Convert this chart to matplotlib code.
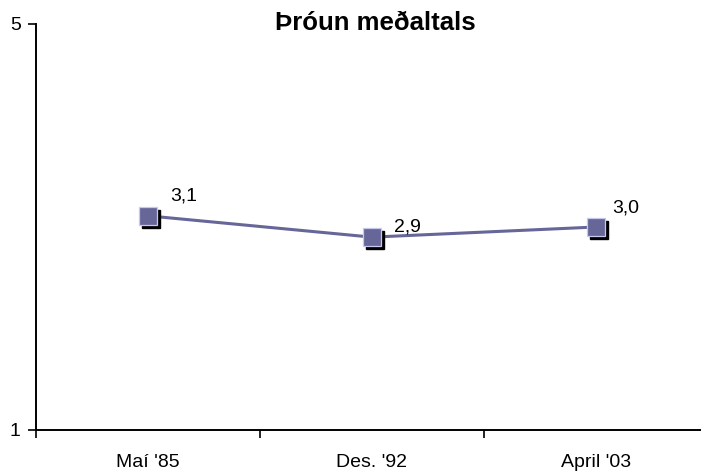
import matplotlib
matplotlib.use("Agg")
import matplotlib.pyplot as plt
import matplotlib.transforms as mtransforms

categories = ["Maí '85", "Des. '92", "April '03"]
values = [3.11, 2.90, 3.00]
value_labels = ["3,1", "2,9", "3,0"]
y_ticks = [1, 5]

plt.rcParams['font.family'] = ['Liberation Sans', 'DejaVu Sans']

fig = plt.figure(figsize=(7.01, 4.76), dpi=100)
ax = fig.add_axes([36/701, 46/476, 1 - 36/701, (430-24)/476])

x = list(range(len(categories)))
line_color = '#666699'

ax.plot(x, values, color=line_color, lw=2.2, zorder=2)
shadow = mtransforms.offset_copy(ax.transData, fig=fig, x=3, y=-3, units='dots')
ax.plot(x, values, ls='none', marker='s', ms=12.5, mfc='black', mec='black',
        transform=shadow, zorder=3, clip_on=False)
ax.plot(x, values, ls='none', marker='s', ms=12.5, mfc=line_color, mec='#c8c8ee',
        mew=0.9, zorder=4, clip_on=False)

label_offsets = [(16, 14), (16, 7), (12, 14)]
for xi, v, lab, off in zip(x, values, value_labels, label_offsets):
    ax.annotate(lab, (xi, v), xytext=off, textcoords='offset points',
                ha='left', va='center', fontsize=14, zorder=5)

ax.set_xlim(-0.5, -0.5 + (701 - 36) / 224)
ax.set_ylim(1, 5)
ax.set_yticks(y_ticks)
ax.set_yticklabels([str(t) for t in y_ticks], fontsize=14)
ax.set_xticks([i + 0.5 for i in range(-1, len(categories) - 1)])
ax.set_xticklabels([])
ax.set_xticks(x, minor=True)
ax.set_xticklabels(categories, minor=True, fontsize=14)
ax.tick_params(axis='x', which='minor', length=0, pad=17)
ax.tick_params(axis='x', which='major', length=6, width=1.2, direction='out')
ax.tick_params(axis='y', length=6, width=1.2, direction='out', pad=5)

for s in ['top', 'right']:
    ax.spines[s].set_visible(False)
for s in ['left', 'bottom']:
    ax.spines[s].set_linewidth(1.4)
    ax.spines[s].set_color('black')

fig.text(375/701, 1 - 23/476, "Þróun meðaltals", ha='center', va='center',
         fontsize=18.5, fontweight='bold')

fig.savefig('out.png', dpi=100)
